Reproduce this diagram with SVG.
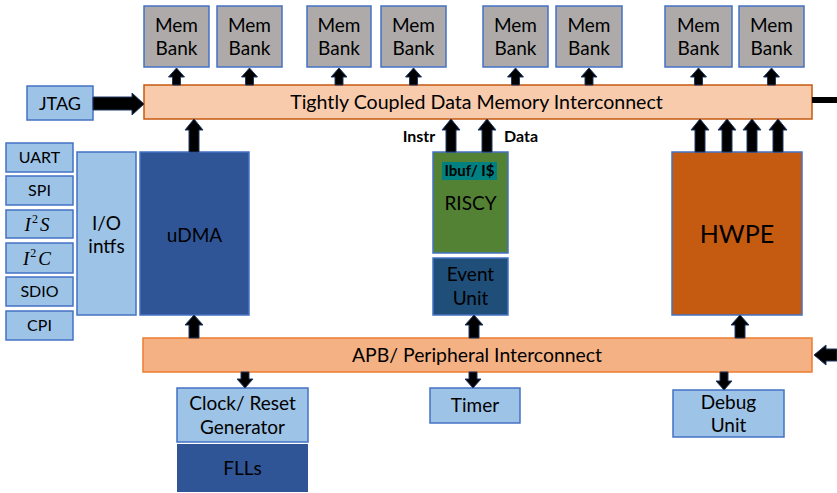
<svg xmlns="http://www.w3.org/2000/svg" width="837" height="493" viewBox="0 0 837 493">
<style>
text{font-family:"Lato","Liberation Sans",sans-serif;fill:#000;text-anchor:middle}
.mem{fill:#aeaaaa;stroke:#4472c4;stroke-width:1.5}
.lb{fill:#9dc3e6;stroke:#4472c4;stroke-width:1.5}
.t18{font-size:19px}
.t16{font-size:16px}
.arr{fill:#000;stroke:#203864;stroke-width:1}
.math{font-family:"Liberation Serif",serif;font-style:italic;font-size:19px}
</style>
<rect width="837" height="493" fill="#fff"/>
<g id="membanks">
<g id="mem1"><rect class="mem" x="144" y="6" width="65" height="61"/><text class="t18" x="176.5" y="32">Mem</text><text class="t18" x="176.5" y="55">Bank</text></g>
<g id="mem2"><rect class="mem" x="217" y="6" width="65" height="61"/><text class="t18" x="249.5" y="32">Mem</text><text class="t18" x="249.5" y="55">Bank</text></g>
<g id="mem3"><rect class="mem" x="307" y="6" width="64" height="61"/><text class="t18" x="339" y="32">Mem</text><text class="t18" x="339" y="55">Bank</text></g>
<g id="mem4"><rect class="mem" x="381" y="6" width="65" height="61"/><text class="t18" x="413.5" y="32">Mem</text><text class="t18" x="413.5" y="55">Bank</text></g>
<g id="mem5"><rect class="mem" x="483" y="6" width="65" height="61"/><text class="t18" x="515.5" y="32">Mem</text><text class="t18" x="515.5" y="55">Bank</text></g>
<g id="mem6"><rect class="mem" x="556" y="6" width="66" height="61"/><text class="t18" x="589" y="32">Mem</text><text class="t18" x="589" y="55">Bank</text></g>
<g id="mem7"><rect class="mem" x="665" y="6" width="67" height="61"/><text class="t18" x="698.5" y="32">Mem</text><text class="t18" x="698.5" y="55">Bank</text></g>
<g id="mem8"><rect class="mem" x="739" y="6" width="65" height="61"/><text class="t18" x="771.5" y="32">Mem</text><text class="t18" x="771.5" y="55">Bank</text></g>
</g>
<g id="tcdm"><rect x="144" y="85" width="668" height="34" fill="#f8cbad" stroke="#c55a11" stroke-width="1.5"/><text x="476.5" y="109" font-size="19.6">Tightly Coupled Data Memory Interconnect</text></g>
<g id="jtag"><rect class="lb" x="27" y="86" width="66" height="34"/><text x="60" y="110" font-size="18">JTAG</text></g>
<g id="uart"><rect class="lb" x="6" y="143" width="67" height="29"/><text class="t16" x="39.5" y="163">UART</text></g>
<g id="spi"><rect class="lb" x="6" y="176" width="67" height="29"/><text class="t16" x="39.5" y="196">SPI</text></g>
<g id="i2s"><rect class="lb" x="6" y="210" width="67" height="28"/><text class="math" x="37" y="231">I<tspan font-style="normal" font-size="12" dy="-8" dx="1">2</tspan><tspan dy="8" dx="2">S</tspan></text></g>
<g id="i2c"><rect class="lb" x="6" y="243" width="67" height="30"/><text class="math" x="37" y="265">I<tspan font-style="normal" font-size="12" dy="-8" dx="1">2</tspan><tspan dy="8" dx="2">C</tspan></text></g>
<g id="sdio"><rect class="lb" x="6" y="277" width="67" height="29"/><text class="t16" x="39.5" y="297">SDIO</text></g>
<g id="cpi"><rect class="lb" x="6" y="311" width="67" height="29"/><text class="t16" x="39.5" y="331">CPI</text></g>
<g id="io"><rect class="lb" x="77" y="152" width="59" height="163"/><text class="t18" x="106.5" y="230">I/O</text><text class="t18" x="106.5" y="253">intfs</text></g>
<g id="udma"><rect x="140" y="152" width="109" height="163" fill="#2f5597" stroke="#4472c4" stroke-width="1.5"/><text class="t18" x="194.5" y="242">uDMA</text></g>
<g id="riscy"><rect x="433" y="152" width="75" height="101" fill="#548235" stroke="#4472c4" stroke-width="1.5"/><rect x="442" y="162" width="55" height="18" fill="#008080"/><text x="469.5" y="176" font-size="15" font-weight="bold">Ibuf/ I$</text><text class="t18" x="470.5" y="210">RISCY</text></g>
<g id="event"><rect x="433" y="258" width="75" height="57" fill="#1f4e79" stroke="#4472c4" stroke-width="1.5"/><text class="t18" x="470.5" y="281">Event</text><text class="t18" x="470.5" y="305">Unit</text></g>
<g id="hwpe"><rect x="672" y="152" width="130" height="163" fill="#c55a11" stroke="#4472c4" stroke-width="1.5"/><text x="737" y="243" font-size="25">HWPE</text></g>
<g id="apb"><rect x="143" y="338" width="669" height="34" fill="#f4b183" stroke="#ed7d31" stroke-width="1.5"/><text x="477" y="362" font-size="19.4">APB/ Peripheral Interconnect</text></g>
<g id="clock"><rect class="lb" x="177" y="388" width="131" height="54"/><text class="t18" x="242.5" y="410">Clock/ Reset</text><text class="t18" x="242.5" y="434">Generator</text></g>
<g id="flls"><rect x="177" y="444" width="131" height="48" fill="#2f5597"/><text class="t18" x="242.5" y="475">FLLs</text></g>
<g id="timer"><rect class="lb" x="430" y="388" width="90" height="35"/><text class="t18" x="475" y="412">Timer</text></g>
<g id="debug"><rect class="lb" x="673" y="390" width="111" height="47"/><text class="t18" x="728.5" y="409">Debug</text><text class="t18" x="728.5" y="432">Unit</text></g>
<g id="connectors">
<path class="arr" d="M93 97H132V93L144 104L132 115V110H93Z"/>
<rect x="812" y="97" width="25" height="6" fill="#000"/>
<path class="arr" d="M837 349H826V345L814 355L826 365V361H837Z"/>
<g id="memarrows">
<path class="arr" d="M176.5 68l8 9h-4v8h-8v-8h-4z"/>
<path class="arr" d="M249.5 68l8 9h-4v8h-8v-8h-4z"/>
<path class="arr" d="M339 68l8 9h-4v8h-8v-8h-4z"/>
<path class="arr" d="M413.5 68l8 9h-4v8h-8v-8h-4z"/>
<path class="arr" d="M515.5 68l8 9h-4v8h-8v-8h-4z"/>
<path class="arr" d="M589 68l8 9h-4v8h-8v-8h-4z"/>
<path class="arr" d="M698.5 68l8 9h-4v8h-8v-8h-4z"/>
<path class="arr" d="M771.5 68l8 9h-4v8h-8v-8h-4z"/>
</g>
<g id="tcdmup">
<path class="arr" d="M194 119l9 11h-4v22h-10v-22h-4z"/>
<path class="arr" d="M451 119l9 11h-4v22h-10v-22h-4z"/>
<path class="arr" d="M487 119l9 11h-4v22h-10v-22h-4z"/>
<path class="arr" d="M700 119l9 11h-4v22h-10v-22h-4z"/>
<path class="arr" d="M727 119l9 11h-4v22h-10v-22h-4z"/>
<path class="arr" d="M752 119l9 11h-4v22h-10v-22h-4z"/>
<path class="arr" d="M778 119l9 11h-4v22h-10v-22h-4z"/>
</g>
<g id="apbup">
<path class="arr" d="M194 315l9 10h-4v13h-10v-13h-4z"/>
<path class="arr" d="M474 315l9 10h-4v13h-10v-13h-4z"/>
<path class="arr" d="M740 315l9 10h-4v13h-10v-13h-4z"/>
</g>
<g id="apbdown">
<path class="arr" d="M245 388l8 -9h-4v-7h-8v7h-4z"/>
<path class="arr" d="M473 388l8 -9h-4v-7h-8v7h-4z"/>
<path class="arr" d="M724 390l8 -9h-4v-9h-8v9h-4z"/>
</g>
<text x="419" y="142" font-size="16" font-weight="bold">Instr</text>
<text x="521" y="142" font-size="16" font-weight="bold">Data</text>
</g>
</svg>
